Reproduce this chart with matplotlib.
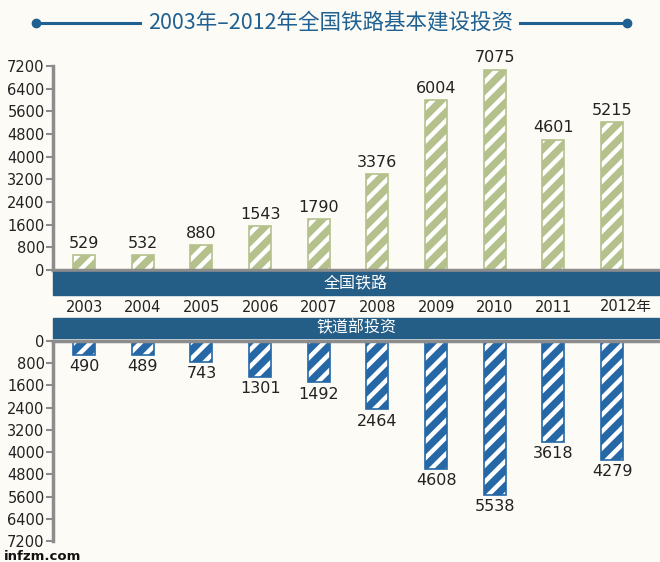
import numpy as np
import matplotlib.pyplot as plt
from matplotlib.patches import Rectangle
from matplotlib.lines import Line2D
from matplotlib import transforms

# 数据：全国铁路基本建设投资与铁道部投资（亿元）
years = ['2003', '2004', '2005', '2006', '2007', '2008', '2009', '2010', '2011', '2012年']
national = [529, 532, 880, 1543, 1790, 3376, 6004, 7075, 4601, 5215]
ministry = [490, 489, 743, 1301, 1492, 2464, 4608, 5538, 3618, 4279]
yticks = list(range(0, 7201, 800))

plt.rcParams['font.family'] = ['DejaVu Sans', 'Noto Sans CJK SC']
plt.rcParams['hatch.linewidth'] = 3.2

W, H = 660, 562
bg = '#fdfbf5'
green = '#b4c18c'
blue = '#2668a6'
band = '#245e87'
grey = '#8c8c8c'
cjk = ['Noto Sans CJK SC', 'DejaVu Sans']

fig = plt.figure(figsize=(6.6, 5.62), dpi=100)
fig.patch.set_facecolor(bg)


def fx(px):
    return px / W


def fy(py):
    return 1 - py / H


x = np.arange(len(years))
bw = 0.375

ax_top = fig.add_axes([fx(53), fy(270), (659 - 53) / W, (270 - 66) / H])
ax_bot = fig.add_axes([fx(53), fy(541), (659 - 53) / W, (541 - 341) / H])

for ax, vals, col, inv in [(ax_top, national, green, False), (ax_bot, ministry, blue, True)]:
    ax.set_facecolor('none')
    # 斜纹柱：底色 + 白色斜线 + 外框
    ax.bar(x, vals, width=bw, color=col, edgecolor='white', hatch='//', linewidth=0)
    ax.bar(x, vals, width=bw, color='none', edgecolor=col, linewidth=1.2)
    ax.set_xlim(-0.53, 9.8)
    ax.set_ylim(0, 7200)
    ax.set_yticks(yticks)
    ax.set_xticks([])
    ax.spines['right'].set_visible(False)
    ax.spines['left'].set_color(grey)
    ax.spines['left'].set_linewidth(2.5)
    ax.tick_params(axis='y', length=5, width=1.5, color=grey, labelsize=10.5,
                   labelcolor='#222222', pad=1)
    if inv:
        ax.invert_yaxis()
        ax.spines['bottom'].set_visible(False)
        ax.spines['top'].set_color(grey)
        ax.spines['top'].set_linewidth(2.5)
        for xi, v in zip(x, vals):
            ax.annotate(str(v), (xi, v), xytext=(0, -3), textcoords='offset points',
                        ha='center', va='top', fontsize=11.5, color='#222222')
    else:
        ax.spines['top'].set_visible(False)
        ax.spines['bottom'].set_color(grey)
        ax.spines['bottom'].set_linewidth(2.5)
        for xi, v in zip(x, vals):
            ax.annotate(str(v), (xi, v), xytext=(0, 3), textcoords='offset points',
                        ha='center', va='bottom', fontsize=11.5, color='#222222')

# 两条深蓝色横带
fig.add_artist(Rectangle((fx(53), fy(295)), (659 - 53) / W, 23 / H,
                         transform=fig.transFigure, color=band, zorder=3))
fig.text(fx(356), fy(283.5), '全国铁路', ha='center', va='center', color='white',
         fontsize=11.5, family=cjk, zorder=4)
fig.add_artist(Rectangle((fx(53), fy(338)), (659 - 53) / W, 20 / H,
                         transform=fig.transFigure, color=band, zorder=3))
fig.text(fx(356), fy(328), '铁道部投资', ha='center', va='center', color='white',
         fontsize=11.5, family=cjk, zorder=4)

# 年份标签
trans = transforms.blended_transform_factory(ax_top.transData, fig.transFigure)
for xi, yr in zip(x, years):
    if yr.endswith('年'):
        fig.text(xi - 0.2, fy(307), yr, transform=trans, ha='left', va='center',
                 fontsize=10.5, color='#222222', family=['DejaVu Sans', 'Noto Sans CJK SC'])
    else:
        fig.text(xi, fy(307), yr, transform=trans, ha='center', va='center',
                 fontsize=10.5, color='#222222')

# 标题与两侧装饰线
title_col = '#1f6192'
fig.text(fx(331), fy(22), '2003年–2012年全国铁路基本建设投资', ha='center', va='center',
         color=title_col, fontsize=15.5, family=cjk)
for x0, x1, xd in [(36, 140, 36), (520, 627, 627)]:
    fig.add_artist(Line2D([fx(x0), fx(x1)], [fy(23), fy(23)], color=title_col, lw=2.2,
                          transform=fig.transFigure))
    fig.add_artist(Line2D([fx(xd)], [fy(23)], color=title_col, marker='o', markersize=6,
                          transform=fig.transFigure))

# 水印
fig.text(fx(4), fy(556.5), 'infzm.com', ha='left', va='center', fontsize=9.5,
         fontweight='bold', color='#111111')

fig.savefig('out.png', dpi=100, facecolor=bg)
